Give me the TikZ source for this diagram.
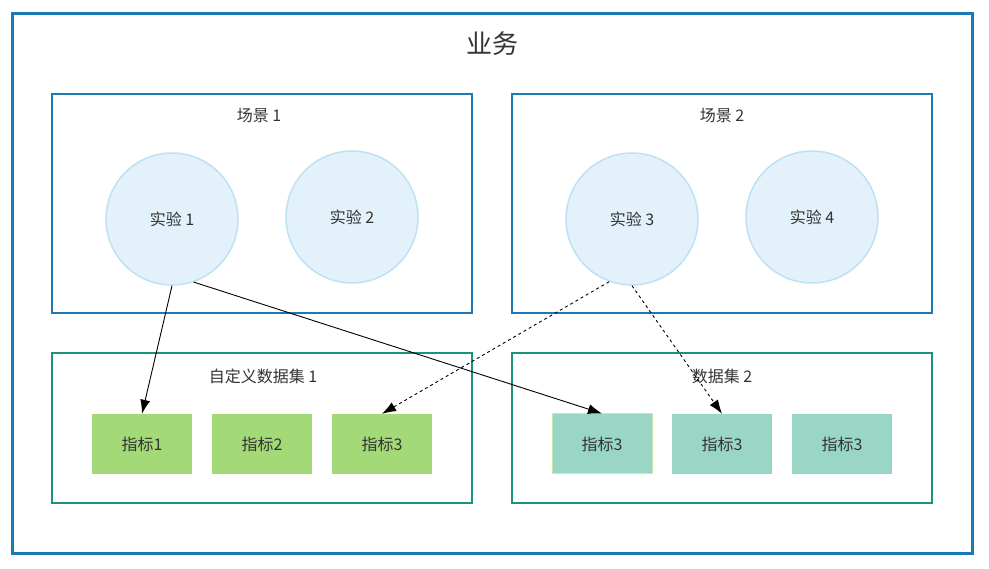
\documentclass[tikz,border=0pt]{standalone}
\usepackage{fontspec}
\setmainfont{Noto Sans CJK SC}
\usetikzlibrary{arrows.meta}
\definecolor{outerblue}{HTML}{1A7AB5}
\definecolor{dsgreen}{HTML}{1A9178}
\definecolor{circfill}{HTML}{E3F2FA}
\definecolor{circline}{HTML}{BEE1F3}
\definecolor{kgreen}{HTML}{A3D977}
\definecolor{kteal}{HTML}{9AD6C6}
\definecolor{txt}{HTML}{333333}
\begin{document}
\begin{tikzpicture}[x=1pt,y=-1pt,
  outerbox/.style={draw=outerblue,line width=3pt},
  scenebox/.style={draw=outerblue,line width=1.6pt},
  dsbox/.style={draw=dsgreen,line width=1.6pt},
  expcirc/.style={circle,draw=circline,fill=circfill,line width=1.5pt,minimum size=132pt,inner sep=0pt,text=txt,font=\fontsize{16}{18}\selectfont},
  kpi/.style={rectangle,minimum width=100pt,minimum height=60pt,inner sep=0pt,text=txt,font=\fontsize{16}{18}\selectfont},
  kpig/.style={kpi,fill=kgreen},
  kpit/.style={kpi,fill=kteal},
  lbl/.style={text=txt,font=\fontsize{16}{18}\selectfont},
  arr/.style={-{Latex[length=14pt,width=10pt]},line width=0.9pt},
  darr/.style={arr,dashed}]
\useasboundingbox (0,0) rectangle (989,569);
\draw[outerbox] (12,14) rectangle (972,553);
\node[text=txt,font=\fontsize{26}{30}\selectfont] (title) at (492,44) {业务};
% scene boxes
\draw[scenebox] (52,94) rectangle (472,313);
\draw[scenebox] (512,94) rectangle (932,313);
\node[lbl] (s1) at (259,116) {场景 1};
\node[lbl] (s2) at (722,116) {场景 2};
% dataset boxes
\draw[dsbox] (52,353) rectangle (472,503);
\draw[dsbox] (512,353) rectangle (932,503);
\node[lbl] (d1) at (263,376) {自定义数据集 1};
\node[lbl] (d2) at (722,376) {数据集 2};
% experiments
\node[expcirc] (e1) at (172,219) {实验 1};
\node[expcirc] (e2) at (352,217) {实验 2};
\node[expcirc] (e3) at (632,219) {实验 3};
\node[expcirc] (e4) at (812,217) {实验 4};
% kpis
\node[kpig] (k1) at (142,444) {指标1};
\node[kpig] (k2) at (262,444) {指标2};
\node[kpig] (k3) at (382,444) {指标3};
\node[kpit,draw=kgreen!60,line width=1pt] (k4) at (602,444) {指标3};
\node[kpit] (k5) at (722,444) {指标3};
\node[kpit] (k6) at (842,444) {指标3};
% connectors
\draw[arr] (e1.south) -- (k1.north);
\draw[arr] (e1.-71) -- (k4.north);
\draw[darr] (e3.-110) -- (k3.north);
\draw[darr] (e3.-90) -- (k5.north);
\end{tikzpicture}
\end{document}
